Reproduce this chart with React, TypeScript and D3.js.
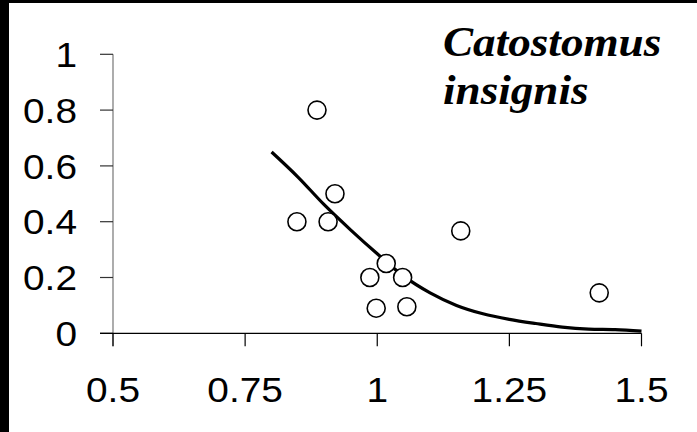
import React from 'react';
import * as d3 from 'd3';

// observed points
const obsX = [0.886, 0.848, 0.92, 0.907, 1.017, 0.986, 1.048, 0.998, 1.056, 1.158, 1.42];
const obsY = [0.80, 0.40, 0.50, 0.40, 0.25, 0.20, 0.20, 0.09, 0.095, 0.367, 0.145];

// fitted curve
const fitX = [0.8, 0.85, 0.9, 0.95, 1.0, 1.05, 1.1, 1.15, 1.2, 1.25, 1.3, 1.35, 1.4, 1.45, 1.5];
const fitY = [0.65, 0.56, 0.46, 0.37, 0.285, 0.205, 0.145, 0.10, 0.07, 0.05, 0.035, 0.022, 0.015, 0.013, 0.008];

const xTicks = [0.5, 0.75, 1, 1.25, 1.5];
const yTicks = [0, 0.2, 0.4, 0.6, 0.8, 1];
const titleLines = ['Catostomus', 'insignis'];

const W = 697;
const H = 432;

export default function App() {
  const x = d3.scaleLinear().domain([0.5, 1.5]).range([113, 641.5]);
  const y = d3.scaleLinear().domain([0, 1]).range([333.3, 54.3]);

  const fit = fitX.map((v, i) => ({ x: v, y: fitY[i] }));
  const line = d3.line<{ x: number; y: number }>()
    .x(d => x(d.x))
    .y(d => y(d.y))
    .curve(d3.curveMonotoneX);

  const tickFont = '"Liberation Sans", Arial, sans-serif';
  // the tick labels are a bit wider than plain Arial
  const stretch = 1.11;

  return (
    <div style={{ position: 'absolute', left: 0, top: 0 }}>
      <svg width={W} height={H} style={{ display: 'block', background: '#fff' }}>
        {/* frame edges */}
        <rect x={0} y={0} width={9} height={H} fill="#000" />
        <rect x={0} y={0} width={W} height={3} fill="#000" />

        {/* y axis */}
        <line x1={x(0.5)} x2={x(0.5)} y1={y(1)} y2={y(0) + 13} stroke="#808080" strokeWidth={1.3} />
        {yTicks.map(t => (
          <g key={'y' + t}>
            <line x1={x(0.5) - 13} x2={x(0.5)} y1={y(t)} y2={y(t)} stroke="#333" strokeWidth={1.2} />
            <text
              transform={`translate(77,${y(t)}) scale(${stretch},1)`}
              dy="0.36em"
              textAnchor="end"
              fontFamily={tickFont}
              fontSize={35}
              fill="#000"
            >
              {t}
            </text>
          </g>
        ))}

        {/* x axis */}
        <line x1={x(0.5) - 13} x2={x(1.5)} y1={y(0)} y2={y(0)} stroke="#000" strokeWidth={1.2} />
        {xTicks.map(t => (
          <g key={'x' + t}>
            <line x1={x(t)} x2={x(t)} y1={y(0)} y2={y(0) + 13} stroke="#000" strokeWidth={1.2} />
            <text
              transform={`translate(${x(t)},402) scale(${stretch},1)`}
              textAnchor="middle"
              fontFamily={tickFont}
              fontSize={35}
              fill="#000"
            >
              {t}
            </text>
          </g>
        ))}

        {/* fitted line */}
        <path d={line(fit) || ''} fill="none" stroke="#000" strokeWidth={3.2} />

        {/* points */}
        {obsX.map((v, i) => (
          <circle key={i} cx={x(v)} cy={y(obsY[i])} r={9} fill="#fff" stroke="#000" strokeWidth={1.6} />
        ))}

        {/* title, two lines */}
        {titleLines.map((s, i) => (
          <text
            key={s}
            transform={`translate(443,${56 + i * 48}) scale(1.05,1)`}
            fontFamily='"Liberation Serif", "Times New Roman", serif'
            fontWeight="bold"
            fontStyle="italic"
            fontSize={43}
            fill="#000"
          >
            {s}
          </text>
        ))}
      </svg>
    </div>
  );
}
